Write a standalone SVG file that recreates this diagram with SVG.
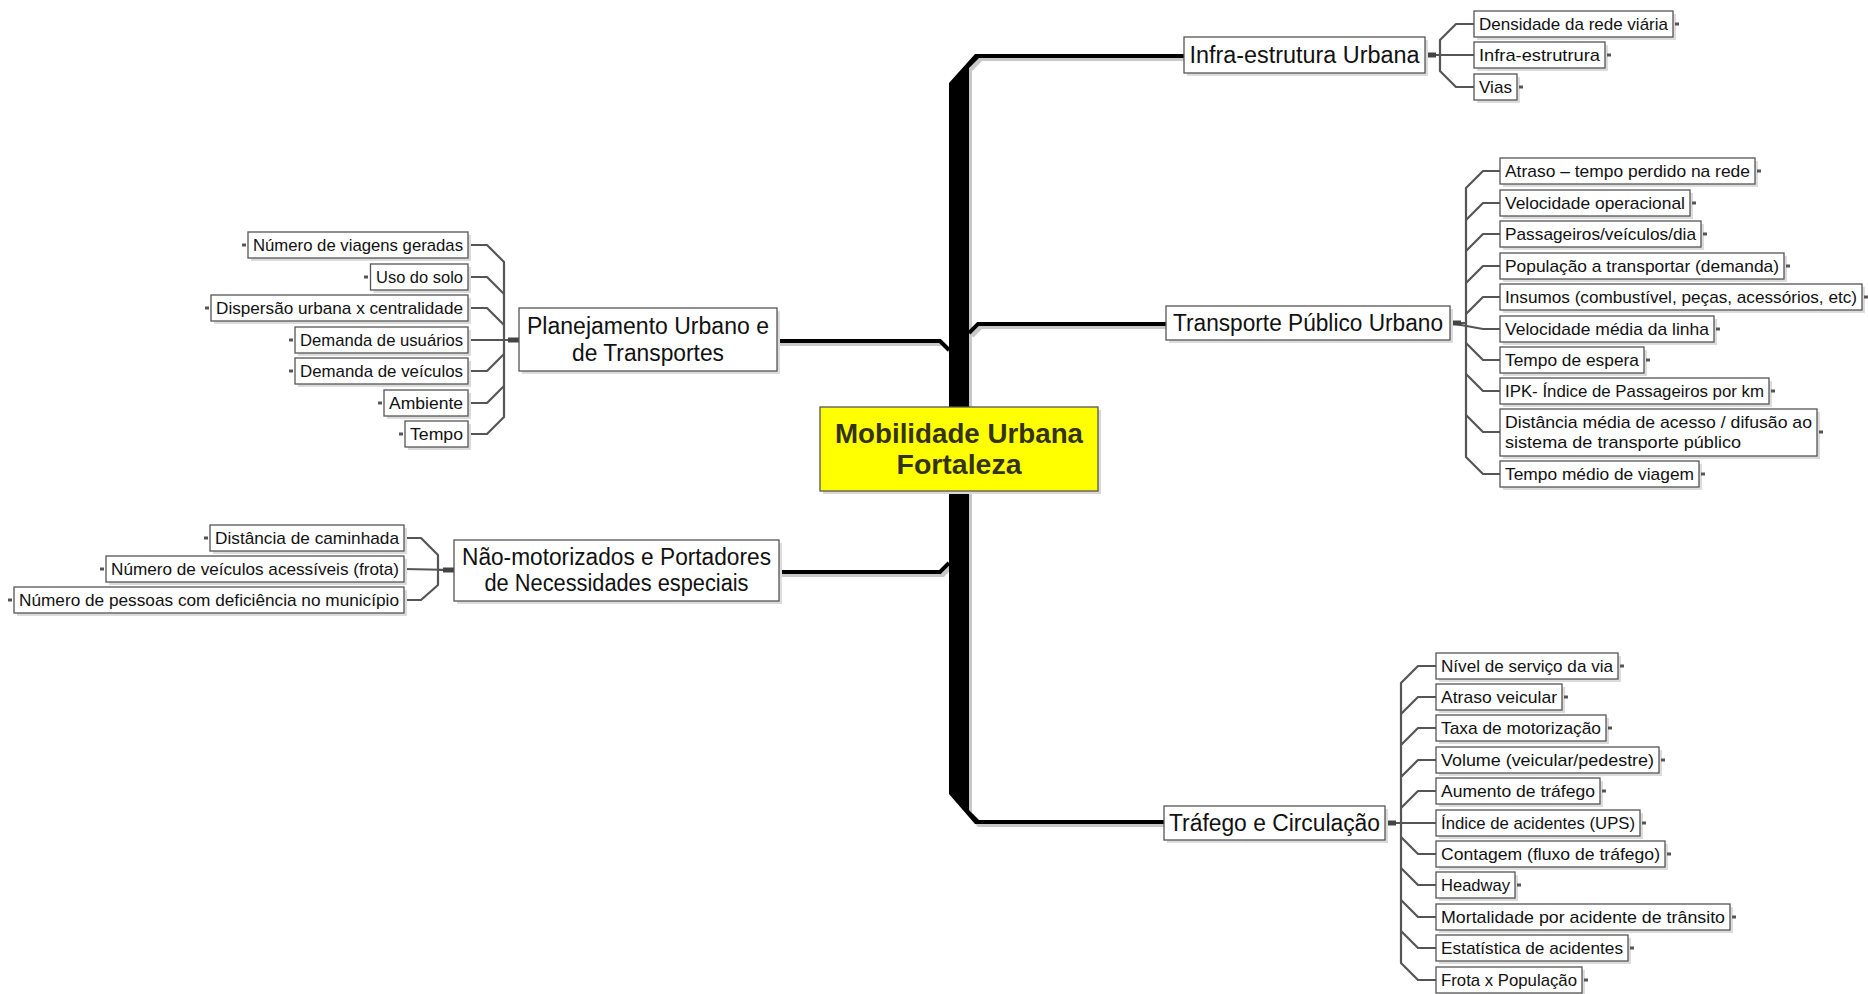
<svg xmlns="http://www.w3.org/2000/svg" width="1868" height="994" viewBox="0 0 1868 994">
<style>
.bg{fill:#fff}
.box{fill:#fff;stroke:#555;stroke-width:1.3}
.sh{fill:#dcdcdc}
.t{font-family:"Liberation Sans",Arial,sans-serif;font-size:17px;fill:#111}
.m{font-family:"Liberation Sans",Arial,sans-serif;font-size:23px;fill:#111;text-anchor:middle}
.e{text-anchor:end}
.c{stroke:#555;stroke-width:2.2;fill:none;stroke-linejoin:round}
.tick{stroke:#555;stroke-width:3}
.stub{stroke:#444;stroke-width:5}
.ml{stroke:#000;stroke-width:4;fill:none;stroke-linejoin:miter}
.mls{stroke:#c8c8c8;stroke-width:4;fill:none}
.center{fill:#ffff00;stroke:#555;stroke-width:1.3}
.ct{font-family:"Liberation Sans",Arial,sans-serif;font-size:27.5px;font-weight:bold;fill:#33331a;text-anchor:middle}
</style>
<rect class="bg" x="0" y="0" width="1868" height="994"/>
<g id="connectors">
  <g transform="translate(3,3)">
    <polygon fill="#c8c8c8" points="949,83 975,54 979,54 979,58 969,68 969,810 979,820 979,824 975,824 949,794"/>
    <path class="mls" d="M977,56 L1184,56"/>
    <path class="mls" d="M969,333 L978,324 L1166,324"/>
    <path class="mls" d="M977,822 L1164,822"/>
    <path class="mls" d="M777,341 L940,341 L949,350"/>
    <path class="mls" d="M779,572 L940,572 L949,563"/>
  </g>
  <polygon fill="#000" points="949,83 975,54 979,54 979,58 969,68 969,810 979,820 979,824 975,824 949,794"/>
  <path class="ml" d="M977,56 L1184,56"/>
  <path class="ml" d="M969,333 L978,324 L1166,324"/>
  <path class="ml" d="M977,822 L1164,822"/>
  <path class="ml" d="M777,341 L940,341 L949,350"/>
  <path class="ml" d="M779,572 L940,572 L949,563"/>

  <!-- Infra -->
  <path class="c" d="M1425,55 L1440,55 L1440,40 L1456,24 L1474,24"/>
  <path class="c" d="M1425,55 L1474,55"/>
  <path class="c" d="M1425,55 L1440,55 L1440,71 L1456,87 L1474,87"/>
  <line class="stub" x1="1425" y1="55" x2="1436" y2="55"/>

  <!-- Transporte -->
  <path class="c" d="M1450,323 L1466,323 L1466,188 L1483,171 L1500,171"/>
  <path class="c" d="M1466,220 L1483,203 L1500,203"/>
  <path class="c" d="M1466,251 L1483,234 L1500,234"/>
  <path class="c" d="M1466,283 L1483,266 L1500,266"/>
  <path class="c" d="M1466,314 L1483,297 L1500,297"/>
  <path class="c" d="M1450,323 L1483,329 L1500,329"/>
  <path class="c" d="M1466,323 L1466,457 L1483,474 L1500,474"/>
  <path class="c" d="M1466,343 L1483,360 L1500,360"/>
  <path class="c" d="M1466,374 L1483,391 L1500,391"/>
  <path class="c" d="M1466,415 L1483,432 L1500,432"/>
  <line class="stub" x1="1450" y1="323" x2="1461" y2="323"/>

  <!-- Trafego -->
  <path class="c" d="M1385,823 L1401,823 L1401,683 L1418,666 L1436,666"/>
  <path class="c" d="M1401,714 L1418,697 L1436,697"/>
  <path class="c" d="M1401,745 L1418,728 L1436,728"/>
  <path class="c" d="M1401,777 L1418,760 L1436,760"/>
  <path class="c" d="M1401,808 L1418,791 L1436,791"/>
  <path class="c" d="M1385,823 L1436,823"/>
  <path class="c" d="M1401,823 L1401,963 L1418,980 L1436,980"/>
  <path class="c" d="M1401,837 L1418,854 L1436,854"/>
  <path class="c" d="M1401,868 L1418,885 L1436,885"/>
  <path class="c" d="M1401,900 L1418,917 L1436,917"/>
  <path class="c" d="M1401,931 L1418,948 L1436,948"/>
  <line class="stub" x1="1385" y1="823" x2="1396" y2="823"/>

  <!-- Planejamento -->
  <path class="c" d="M519,340 L504,340 L504,262 L487,245 L468,245"/>
  <path class="c" d="M504,294 L487,277 L468,277"/>
  <path class="c" d="M504,325 L487,308 L468,308"/>
  <path class="c" d="M519,340 L468,340"/>
  <path class="c" d="M504,340 L504,417 L487,434 L468,434"/>
  <path class="c" d="M504,354 L487,371 L468,371"/>
  <path class="c" d="M504,386 L487,403 L468,403"/>
  <line class="stub" x1="519" y1="340" x2="508" y2="340"/>

  <!-- Nao motorizados -->
  <path class="c" d="M454,570 L438,570 L438,555 L421,538 L404,538"/>
  <path class="c" d="M454,570 L404,569"/>
  <path class="c" d="M438,570 L438,585 L421,600 L404,600"/>
  <line class="stub" x1="454" y1="570" x2="443" y2="570"/>
</g>

<!-- Central -->
<g id="n-center">
  <rect x="823" y="410" width="278" height="84" fill="#d8d8d8"/>
  <rect class="center" x="820" y="407" width="278" height="84"/>
  <text class="ct" x="959" y="443" textLength="248" lengthAdjust="spacingAndGlyphs">Mobilidade Urbana</text>
  <text class="ct" x="959" y="474" textLength="125" lengthAdjust="spacingAndGlyphs">Fortaleza</text>
</g>

<!-- Main nodes -->
<g id="n-infra">
  <rect class="sh" x="1187" y="40" width="241" height="36"/>
  <rect class="box" x="1184" y="37" width="241" height="36"/>
  <text class="m" x="1304.5" y="63" textLength="230" lengthAdjust="spacingAndGlyphs">Infra-estrutura Urbana</text>
</g>
<g id="n-transporte">
  <rect class="sh" x="1169" y="309" width="284" height="34"/>
  <rect class="box" x="1166" y="306" width="284" height="34"/>
  <text class="m" x="1308" y="331" textLength="270" lengthAdjust="spacingAndGlyphs">Transporte Público Urbano</text>
</g>
<g id="n-trafego">
  <rect class="sh" x="1167" y="809" width="221" height="34"/>
  <rect class="box" x="1164" y="806" width="221" height="34"/>
  <text class="m" x="1274.5" y="831" textLength="211" lengthAdjust="spacingAndGlyphs">Tráfego e Circulação</text>
</g>
<g id="n-planejamento">
  <rect class="sh" x="522" y="311" width="258" height="63"/>
  <rect class="box" x="519" y="308" width="258" height="63"/>
  <text class="m" x="648" y="334" textLength="242" lengthAdjust="spacingAndGlyphs">Planejamento Urbano e</text>
  <text class="m" x="648" y="361" textLength="152" lengthAdjust="spacingAndGlyphs">de Transportes</text>
</g>
<g id="n-nao">
  <rect class="sh" x="457" y="543" width="325" height="61"/>
  <rect class="box" x="454" y="540" width="325" height="61"/>
  <text class="m" x="616.5" y="565" textLength="309" lengthAdjust="spacingAndGlyphs">Não-motorizados e Portadores</text>
  <text class="m" x="616.5" y="591" textLength="264" lengthAdjust="spacingAndGlyphs">de Necessidades especiais</text>
</g>

<!-- Infra children -->
<g id="n-densidade"><rect class="sh" x="1477" y="14" width="199" height="26"/><rect class="box" x="1474" y="11" width="199" height="26"/><text class="t" x="1479" y="30" textLength="189" lengthAdjust="spacingAndGlyphs">Densidade da rede viária</text><line class="tick" x1="1675" y1="24" x2="1679" y2="24"/></g>
<g id="n-infraestr"><rect class="sh" x="1477" y="45" width="131" height="26"/><rect class="box" x="1474" y="42" width="131" height="26"/><text class="t" x="1479" y="61" textLength="121" lengthAdjust="spacingAndGlyphs">Infra-estrutrura</text><line class="tick" x1="1607" y1="55" x2="1611" y2="55"/></g>
<g id="n-vias"><rect class="sh" x="1477" y="77" width="43" height="26"/><rect class="box" x="1474" y="74" width="43" height="26"/><text class="t" x="1479" y="93" textLength="33" lengthAdjust="spacingAndGlyphs">Vias</text><line class="tick" x1="1519" y1="87" x2="1523" y2="87"/></g>

<!-- Transporte children -->
<g id="n-atraso"><rect class="sh" x="1503" y="161" width="255" height="26"/><rect class="box" x="1500" y="158" width="255" height="26"/><text class="t" x="1505" y="177" textLength="245" lengthAdjust="spacingAndGlyphs">Atraso – tempo perdido na rede</text><line class="tick" x1="1757" y1="171" x2="1761" y2="171"/></g>
<g id="n-velop"><rect class="sh" x="1503" y="193" width="190" height="26"/><rect class="box" x="1500" y="190" width="190" height="26"/><text class="t" x="1505" y="209" textLength="180" lengthAdjust="spacingAndGlyphs">Velocidade operacional</text><line class="tick" x1="1692" y1="203" x2="1696" y2="203"/></g>
<g id="n-passag"><rect class="sh" x="1503" y="224" width="201" height="26"/><rect class="box" x="1500" y="221" width="201" height="26"/><text class="t" x="1505" y="240" textLength="191" lengthAdjust="spacingAndGlyphs">Passageiros/veículos/dia</text><line class="tick" x1="1703" y1="234" x2="1707" y2="234"/></g>
<g id="n-popul"><rect class="sh" x="1503" y="256" width="284" height="26"/><rect class="box" x="1500" y="253" width="284" height="26"/><text class="t" x="1505" y="272" textLength="274" lengthAdjust="spacingAndGlyphs">População a transportar (demanda)</text><line class="tick" x1="1786" y1="266" x2="1790" y2="266"/></g>
<g id="n-insumos"><rect class="sh" x="1503" y="287" width="362" height="26"/><rect class="box" x="1500" y="284" width="362" height="26"/><text class="t" x="1505" y="303" textLength="352" lengthAdjust="spacingAndGlyphs">Insumos (combustível, peças, acessórios, etc)</text><line class="tick" x1="1864" y1="297" x2="1868" y2="297"/></g>
<g id="n-velmedia"><rect class="sh" x="1503" y="319" width="214" height="26"/><rect class="box" x="1500" y="316" width="214" height="26"/><text class="t" x="1505" y="335" textLength="204" lengthAdjust="spacingAndGlyphs">Velocidade média da linha</text><line class="tick" x1="1716" y1="329" x2="1720" y2="329"/></g>
<g id="n-espera"><rect class="sh" x="1503" y="350" width="144" height="26"/><rect class="box" x="1500" y="347" width="144" height="26"/><text class="t" x="1505" y="366" textLength="134" lengthAdjust="spacingAndGlyphs">Tempo de espera</text><line class="tick" x1="1646" y1="360" x2="1650" y2="360"/></g>
<g id="n-ipk"><rect class="sh" x="1503" y="381" width="269" height="26"/><rect class="box" x="1500" y="378" width="269" height="26"/><text class="t" x="1505" y="397" textLength="259" lengthAdjust="spacingAndGlyphs">IPK- Índice de Passageiros por km</text><line class="tick" x1="1771" y1="391" x2="1775" y2="391"/></g>
<g id="n-distancia"><rect class="sh" x="1503" y="412" width="317" height="47"/><rect class="box" x="1500" y="409" width="317" height="47"/><text class="t" x="1505" y="428" textLength="307" lengthAdjust="spacingAndGlyphs">Distância média de acesso / difusão ao</text><text class="t" x="1505" y="448" textLength="236" lengthAdjust="spacingAndGlyphs">sistema de transporte público</text><line class="tick" x1="1819" y1="432" x2="1823" y2="432"/></g>
<g id="n-tempomedio"><rect class="sh" x="1503" y="464" width="199" height="26"/><rect class="box" x="1500" y="461" width="199" height="26"/><text class="t" x="1505" y="480" textLength="189" lengthAdjust="spacingAndGlyphs">Tempo médio de viagem</text><line class="tick" x1="1701" y1="474" x2="1705" y2="474"/></g>

<!-- Trafego children -->
<g id="n-nivel"><rect class="sh" x="1439" y="656" width="182" height="26"/><rect class="box" x="1436" y="653" width="182" height="26"/><text class="t" x="1441" y="672" textLength="172" lengthAdjust="spacingAndGlyphs">Nível de serviço da via</text><line class="tick" x1="1620" y1="666" x2="1624" y2="666"/></g>
<g id="n-atrasov"><rect class="sh" x="1439" y="687" width="126" height="26"/><rect class="box" x="1436" y="684" width="126" height="26"/><text class="t" x="1441" y="703" textLength="116" lengthAdjust="spacingAndGlyphs">Atraso veicular</text><line class="tick" x1="1564" y1="697" x2="1568" y2="697"/></g>
<g id="n-taxa"><rect class="sh" x="1439" y="718" width="170" height="26"/><rect class="box" x="1436" y="715" width="170" height="26"/><text class="t" x="1441" y="734" textLength="160" lengthAdjust="spacingAndGlyphs">Taxa de motorização</text><line class="tick" x1="1608" y1="728" x2="1612" y2="728"/></g>
<g id="n-volume"><rect class="sh" x="1439" y="750" width="223" height="26"/><rect class="box" x="1436" y="747" width="223" height="26"/><text class="t" x="1441" y="766" textLength="213" lengthAdjust="spacingAndGlyphs">Volume (veicular/pedestre)</text><line class="tick" x1="1661" y1="760" x2="1665" y2="760"/></g>
<g id="n-aumento"><rect class="sh" x="1439" y="781" width="164" height="26"/><rect class="box" x="1436" y="778" width="164" height="26"/><text class="t" x="1441" y="797" textLength="154" lengthAdjust="spacingAndGlyphs">Aumento de tráfego</text><line class="tick" x1="1602" y1="791" x2="1606" y2="791"/></g>
<g id="n-indice"><rect class="sh" x="1439" y="813" width="204" height="26"/><rect class="box" x="1436" y="810" width="204" height="26"/><text class="t" x="1441" y="829" textLength="194" lengthAdjust="spacingAndGlyphs">Índice de acidentes (UPS)</text><line class="tick" x1="1642" y1="823" x2="1646" y2="823"/></g>
<g id="n-contagem"><rect class="sh" x="1439" y="844" width="229" height="26"/><rect class="box" x="1436" y="841" width="229" height="26"/><text class="t" x="1441" y="860" textLength="219" lengthAdjust="spacingAndGlyphs">Contagem (fluxo de tráfego)</text><line class="tick" x1="1667" y1="854" x2="1671" y2="854"/></g>
<g id="n-headway"><rect class="sh" x="1439" y="875" width="79" height="26"/><rect class="box" x="1436" y="872" width="79" height="26"/><text class="t" x="1441" y="891" textLength="69" lengthAdjust="spacingAndGlyphs">Headway</text><line class="tick" x1="1517" y1="885" x2="1521" y2="885"/></g>
<g id="n-mortalidade"><rect class="sh" x="1439" y="907" width="294" height="26"/><rect class="box" x="1436" y="904" width="294" height="26"/><text class="t" x="1441" y="923" textLength="284" lengthAdjust="spacingAndGlyphs">Mortalidade por acidente de trânsito</text><line class="tick" x1="1732" y1="917" x2="1736" y2="917"/></g>
<g id="n-estatistica"><rect class="sh" x="1439" y="938" width="192" height="26"/><rect class="box" x="1436" y="935" width="192" height="26"/><text class="t" x="1441" y="954" textLength="182" lengthAdjust="spacingAndGlyphs">Estatística de acidentes</text><line class="tick" x1="1630" y1="948" x2="1634" y2="948"/></g>
<g id="n-frota"><rect class="sh" x="1439" y="970" width="146" height="26"/><rect class="box" x="1436" y="967" width="146" height="26"/><text class="t" x="1441" y="986" textLength="136" lengthAdjust="spacingAndGlyphs">Frota x População</text><line class="tick" x1="1584" y1="980" x2="1588" y2="980"/></g>

<!-- Planejamento children -->
<g id="n-viagens"><rect class="sh" x="251" y="235" width="220" height="26"/><rect class="box" x="248" y="232" width="220" height="26"/><text class="t e" x="463" y="251" textLength="210" lengthAdjust="spacingAndGlyphs">Número de viagens geradas</text><line class="tick" x1="242" y1="245" x2="246" y2="245"/></g>
<g id="n-uso"><rect class="sh" x="373.5" y="267" width="97.5" height="26"/><rect class="box" x="370.5" y="264" width="97.5" height="26"/><text class="t e" x="463" y="283" textLength="87" lengthAdjust="spacingAndGlyphs">Uso do solo</text><line class="tick" x1="364" y1="277" x2="368" y2="277"/></g>
<g id="n-dispersao"><rect class="sh" x="214" y="298" width="257" height="26"/><rect class="box" x="211" y="295" width="257" height="26"/><text class="t e" x="463" y="314" textLength="247" lengthAdjust="spacingAndGlyphs">Dispersão urbana x centralidade</text><line class="tick" x1="205" y1="308" x2="209" y2="308"/></g>
<g id="n-demusu"><rect class="sh" x="298" y="330" width="173" height="26"/><rect class="box" x="295" y="327" width="173" height="26"/><text class="t e" x="463" y="346" textLength="163" lengthAdjust="spacingAndGlyphs">Demanda de usuários</text><line class="tick" x1="289" y1="340" x2="293" y2="340"/></g>
<g id="n-demvei"><rect class="sh" x="298" y="361" width="173" height="26"/><rect class="box" x="295" y="358" width="173" height="26"/><text class="t e" x="463" y="377" textLength="163" lengthAdjust="spacingAndGlyphs">Demanda de veículos</text><line class="tick" x1="289" y1="371" x2="293" y2="371"/></g>
<g id="n-ambiente"><rect class="sh" x="387" y="393" width="84" height="26"/><rect class="box" x="384" y="390" width="84" height="26"/><text class="t e" x="463" y="409" textLength="74" lengthAdjust="spacingAndGlyphs">Ambiente</text><line class="tick" x1="378" y1="403" x2="382" y2="403"/></g>
<g id="n-tempo"><rect class="sh" x="408" y="424" width="63" height="26"/><rect class="box" x="405" y="421" width="63" height="26"/><text class="t e" x="463" y="440" textLength="53" lengthAdjust="spacingAndGlyphs">Tempo</text><line class="tick" x1="399" y1="434" x2="403" y2="434"/></g>

<!-- Nao children -->
<g id="n-caminhada"><rect class="sh" x="213" y="528" width="194" height="26"/><rect class="box" x="210" y="525" width="194" height="26"/><text class="t e" x="399" y="544" textLength="184" lengthAdjust="spacingAndGlyphs">Distância de caminhada</text><line class="tick" x1="204" y1="538" x2="208" y2="538"/></g>
<g id="n-acessiveis"><rect class="sh" x="109" y="559" width="298" height="26"/><rect class="box" x="106" y="556" width="298" height="26"/><text class="t e" x="399" y="575" textLength="288" lengthAdjust="spacingAndGlyphs">Número de veículos acessíveis (frota)</text><line class="tick" x1="100" y1="569" x2="104" y2="569"/></g>
<g id="n-pessoas"><rect class="sh" x="17" y="590" width="390" height="26"/><rect class="box" x="14" y="587" width="390" height="26"/><text class="t e" x="399" y="606" textLength="380" lengthAdjust="spacingAndGlyphs">Número de pessoas com deficiência no município</text><line class="tick" x1="8" y1="600" x2="12" y2="600"/></g>
</svg>
